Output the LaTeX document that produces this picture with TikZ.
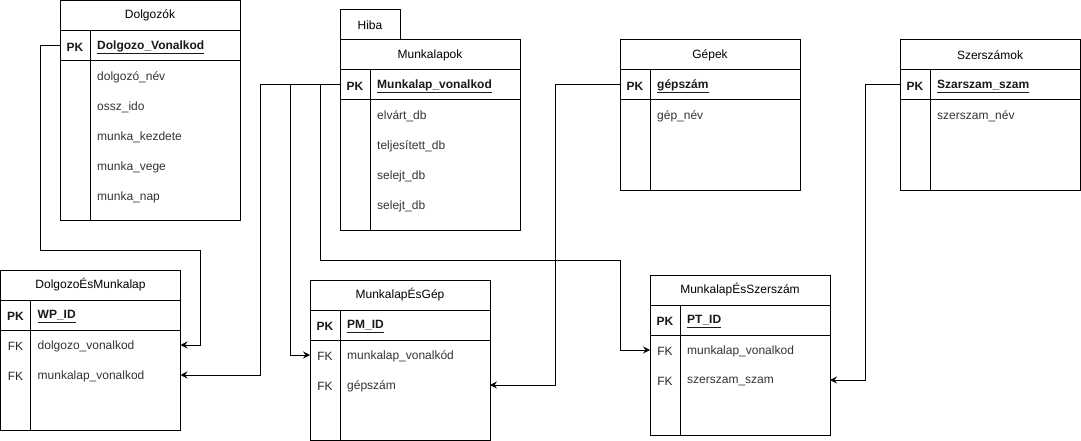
\documentclass[tikz,border=0pt]{standalone}
\usepackage{fontspec}
\setmainfont{Liberation Sans}
\usepackage{tikz}
\usetikzlibrary{arrows.meta,positioning,calc}
\newcommand\tblfont{\fontsize{12}{14}\selectfont}
\tikzset{
  tbltitle/.style={
    draw,
    line width=1pt,
    rectangle,
    minimum width=180,
    minimum height=30,
    inner sep=0pt,
    outer sep=0pt,
    font=\tblfont,
    anchor=north
  },
  tblrow/.style={
    draw,
    line width=1pt,
    rectangle,
    minimum width=180,
    minimum height=30,
    inner sep=0pt,
    outer sep=0pt
  },
  keytext/.style={font=\tblfont, inner sep=0pt, text=black!85, yshift=-1.5pt},
  pkkey/.style={font=\tblfont\bfseries, inner sep=0pt, text=black!90, yshift=-1.5pt},
  pkfield/.style={font=\tblfont\bfseries, inner sep=0pt, anchor=west, text=black!90, yshift=-1.5pt},
  fieldtext/.style={font=\tblfont, inner sep=0pt, anchor=west, text=black!80, yshift=-1.5pt}
}
% one table: name, centre x, top y, title, body height
\newcommand\TableFrame[5]{%
  \node[tbltitle] (#1) at (#2,#3) {#4};
  \node[tblrow, below=0pt of #1] (#1-pk) {};
  \node[tblrow, minimum height=#5, below=0pt of #1-pk] (#1-body) {};
  \draw[line width=1pt] ($(#1-pk.north west)+(30,0)$) -- ($(#1-body.south west)+(30,0)$);
}

\begin{document}
\begin{tikzpicture}[x=1pt, y=-1pt,
    fk/.style={line width=1pt, -{Stealth[length=7pt,width=7pt,inset=2.5pt]}}]

  \useasboundingbox (0,0) rectangle (1081,441);

  % Dolgozok
  \TableFrame{dolg}{150}{0.5}{Dolgozók}{160}
  \node[pkkey] at ($(dolg-pk.west)+(15,0)$) {PK};
  \node[pkfield] (dolg-pkf) at ($(dolg-pk.west)+(37,0)$) {\underline{Dolgozo\_Vonalkod}};
  \foreach \fld [count=\i from 0] in {dolgozó\_név, ossz\_ido, munka\_kezdete, munka\_vege, munka\_nap}
    \node[fieldtext] at ($(dolg-body.north west)+(37,15+30*\i)$) {\fld};

  % Munkalapok
  \TableFrame{mlap}{430}{40}{Munkalapok}{130}
  \node[tblrow, minimum width=60, anchor=south west, font=\tblfont] (hiba) at (mlap.north west) {Hiba};
  \node[pkkey] at ($(mlap-pk.west)+(15,0)$) {PK};
  \node[pkfield] (mlap-pkf) at ($(mlap-pk.west)+(37,0)$) {\underline{Munkalap\_vonalkod}};
  \foreach \fld [count=\i from 0] in {elvárt\_db, teljesített\_db, selejt\_db, selejt\_db}
    \node[fieldtext] at ($(mlap-body.north west)+(37,15+30*\i)$) {\fld};

  % Gepek
  \TableFrame{gep}{710}{40}{Gépek}{90}
  \node[pkkey] at ($(gep-pk.west)+(15,0)$) {PK};
  \node[pkfield] (gep-pkf) at ($(gep-pk.west)+(37,0)$) {\underline{gépszám}};
  \node[fieldtext] at ($(gep-body.north west)+(37,15)$) {gép\_név};

  % Szerszamok
  \TableFrame{szer}{990}{40}{Szerszámok}{90}
  \node[pkkey] at ($(szer-pk.west)+(15,0)$) {PK};
  \node[pkfield] (szer-pkf) at ($(szer-pk.west)+(37,0)$) {\underline{Szarszam\_szam}};
  \node[fieldtext] at ($(szer-body.north west)+(37,15)$) {szerszam\_név};

  % DolgozoEsMunkalap
  \TableFrame{dm}{90.5}{270}{DolgozoÉsMunkalap}{100}
  \node[pkkey] at ($(dm-pk.west)+(15,0)$) {PK};
  \node[pkfield] at ($(dm-pk.west)+(37,0)$) {\underline{WP\_ID}};
  \foreach \fld [count=\i from 0] in {dolgozo\_vonalkod, munkalap\_vonalkod} {
    \node[keytext] at ($(dm-body.north west)+(15,15+30*\i)$) {FK};
    \node[fieldtext] at ($(dm-body.north west)+(37,15+30*\i)$) {\fld};
    \coordinate (dm-r\i) at ($(dm-body.north east)+(0,15+30*\i)$);
  }

  % MunkalapEsGep
  \TableFrame{mg}{400}{280}{MunkalapÉsGép}{100}
  \node[pkkey] at ($(mg-pk.west)+(15,0)$) {PK};
  \node[pkfield] at ($(mg-pk.west)+(37,0)$) {\underline{PM\_ID}};
  \foreach \fld [count=\i from 0] in {munkalap\_vonalkód, gépszám} {
    \node[keytext] at ($(mg-body.north west)+(15,15+30*\i)$) {FK};
    \node[fieldtext] at ($(mg-body.north west)+(37,15+30*\i)$) {\fld};
  }
  \coordinate (mg-r0) at ($(mg-body.north west)+(0,15)$);
  \coordinate (mg-r1) at ($(mg-body.north east)+(0,45)$);

  % MunkalapEsSzerszam
  \TableFrame{msz}{740}{275}{MunkalapÉsSzerszám}{100}
  \node[pkkey] at ($(msz-pk.west)+(15,0)$) {PK};
  \node[pkfield] at ($(msz-pk.west)+(37,0)$) {\underline{PT\_ID}};
  \foreach \fld [count=\i from 0] in {munkalap\_vonalkod, szerszam\_szam} {
    \node[keytext] at ($(msz-body.north west)+(15,15+30*\i)$) {FK};
    \node[fieldtext] at ($(msz-body.north west)+(37,15+30*\i)$) {\fld};
  }
  \coordinate (msz-r0) at ($(msz-body.north west)+(0,15)$);
  \coordinate (msz-r1) at ($(msz-body.north east)+(0,45)$);

  % Connectors
  \coordinate (bend1) at (200,250);
  \coordinate (bend2) at (620,260);
  \draw[fk] (dolg-pk.west) -- ++(-20,0) |- (bend1) |- (dm-r0);
  \draw[fk] (mlap-pk.west) -- ++(-80,0) |- (dm-r1);
  \draw[fk] (mlap-pk.west) -- ++(-50,0) |- (mg-r0);
  \draw[fk] (mlap-pk.west) -- ++(-20,0) |- (bend2) |- (msz-r0);
  \draw[fk] (gep-pk.west) -- ++(-65,0) |- (mg-r1);
  \draw[fk] (szer-pk.west) -- ++(-35,0) |- (msz-r1);

\end{tikzpicture}
\end{document}
